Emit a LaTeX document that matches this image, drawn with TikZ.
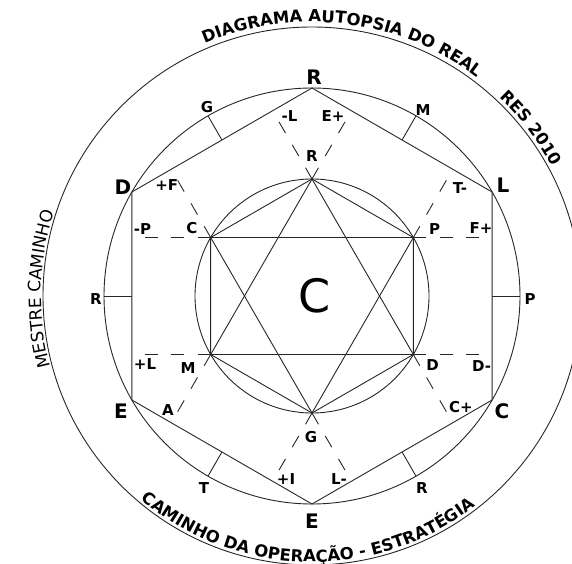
\documentclass[tikz,border=0pt]{standalone}
\usepackage{fontspec}
\setmainfont{DejaVu Sans}
\usetikzlibrary{calc,decorations.text}
\tikzset{
  ln/.style={line width=0.9pt, black!85},
  dsh/.style={ln, dash pattern=on 13pt off 13.5pt},
  big/.style={font=\bfseries\fontsize{20}{22}\selectfont, inner sep=0pt},
  lab/.style={font=\bfseries\fontsize{15}{17}\selectfont, inner sep=0pt},
}
\begin{document}
\begin{tikzpicture}[x=1pt,y=1pt]
\useasboundingbox (0,0) rectangle (572,563);
\clip (0,0) rectangle (572,563);
\coordinate (O) at (312,267);
% circles
\draw[ln] (O) circle[radius=269];
\draw[ln] (O) circle[radius=208];
\draw[ln] (O) circle[radius=117];
% outer hexagon
\coordinate (hR) at ($(O)+(90:208)$);
\coordinate (hL) at ($(O)+(30:208)$);
\coordinate (hC) at ($(O)+(-30:208)$);
\coordinate (hE) at ($(O)+(-90:208)$);
\coordinate (hEl) at ($(O)+(210:208)$);
\coordinate (hD) at ($(O)+(150:208)$);
\draw[ln] (hR) -- (hL) -- (hC) -- (hE) -- (hEl) -- (hD) -- cycle;
% ticks at edge midpoints
\foreach \k in {0,60,120,180,240,300}{
  \coordinate (ta\k) at ($(O)+(\k:180.13)$);
  \coordinate (tb\k) at ($(O)+(\k:208)$);
  \draw[ln] (ta\k) -- (tb\k);
}
% inner hexagon
\coordinate (iR) at ($(O)+(90:117)$);
\coordinate (iP) at ($(O)+(30:117)$);
\coordinate (iD) at ($(O)+(-30:117)$);
\coordinate (iG) at ($(O)+(-90:117)$);
\coordinate (iM) at ($(O)+(210:117)$);
\coordinate (iC) at ($(O)+(150:117)$);
\draw[ln] (iR) -- (iP) -- (iD) -- (iG) -- (iM) -- (iC) -- cycle;
\draw[ln] (iR) -- (iD) -- (iM) -- cycle;
\draw[ln] (iG) -- (iC) -- (iP) -- cycle;
% dashed extensions
\foreach \v/\a in {iR/60, iR/120, iP/60, iP/0, iD/0, iD/-60, iG/-60, iG/240, iM/240, iM/180, iC/180, iC/120}{
  \coordinate (x\v\a) at ($(\v)+(\a:78.8)$);
  \draw[dsh] (\v) -- (x\v\a);
}
% curved texts
\path[decorate, decoration={text along path, text align=center,
  text={|\bfseries\fontsize{16.5}{18}\selectfont|DIAGRAMA AUTOPSIA DO REAL}}]
  ($(O)+(123:274)$) arc[start angle=123, end angle=43, radius=274];
\path[decorate, decoration={text along path, text align=center,
  text={|\bfseries\fontsize{16.5}{18}\selectfont|RES 2010}}]
  ($(O)+(52.4:273)$) arc[start angle=52.4, end angle=22.4, radius=273];
\path[decorate, decoration={text along path, text align=center,
  text={|\bfseries\fontsize{16.5}{18}\selectfont|CAMINHO DA OPERAÇÃO - ESTRATÉGIA}}]
  ($(O)+(218.9:266)$) arc[start angle=218.9, end angle=318.9, radius=266];
\path[decorate, decoration={text along path, text align=center,
  text={|\fontsize{17}{19}\selectfont|MESTRE CAMINHO}}]
  ($(O)+(208.5:271)$) arc[start angle=208.5, end angle=148.5, radius=271];
% centre
\node[inner sep=0pt, font=\fontsize{46}{50}\selectfont] (cc) at (315,267) {C};
% big vertex labels
\node[big] (lR) at (314,486) {R};
\node[big] (lL) at (503,378) {L};
\node[big] (lC) at (502,152) {C};
\node[big] (lE) at (312,42) {E};
\node[big] (lEl) at (121,152) {E};
\node[big] (lD) at (123,376) {D};
% edge labels
\node[lab] (eG) at (207,456) {G};
\node[lab] (eM) at (423,453) {M};
\node[lab] (eP) at (530,264) {P};
\node[lab] (eR) at (422,75) {R};
\node[lab] (eT) at (204,75) {T};
\node[lab] (eRl) at (96,264) {R};
% inner vertex labels
\node[lab] (nR) at (312,407) {R};
\node[lab] (nP) at (434.5,334) {P};
\node[lab] (nD) at (432.5,198) {D};
\node[lab] (nG) at (311,126) {G};
\node[lab] (nM) at (188,195) {M};
\node[lab] (nC) at (192,335) {C};
% extension labels
\node[lab] (xa) at (289.5,447) {-L};
\node[lab] (xb) at (333,447) {E+};
\node[lab] (xc) at (460,374.5) {T-};
\node[lab] (xd) at (481,334.7) {F+};
\node[lab] (xe) at (481.7,197) {D-};
\node[lab] (xf) at (461,156) {C+};
\node[lab] (xg) at (339,84) {L-};
\node[lab] (xh) at (286,84) {+I};
\node[lab] (xi) at (168,153) {A};
\node[lab] (xj) at (145,199) {+L};
\node[lab] (xk) at (142.5,334.3) {-P};
\node[lab] (xl) at (166.7,378.3) {+F};
\end{tikzpicture}
\end{document}
